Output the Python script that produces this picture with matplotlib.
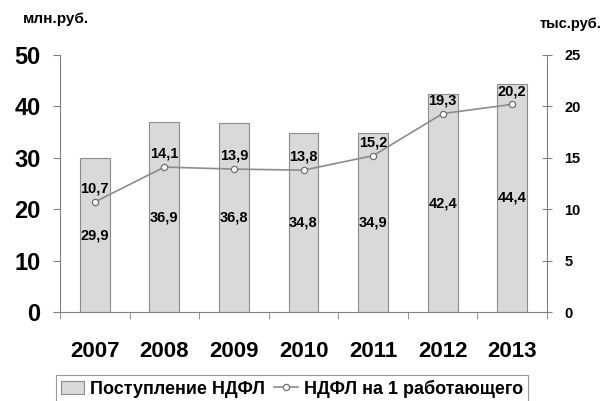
import matplotlib
matplotlib.use("Agg")
import matplotlib.pyplot as plt
import numpy as np

years = ["2007", "2008", "2009", "2010", "2011", "2012", "2013"]
income = [29.9, 36.9, 36.8, 34.8, 34.9, 42.4, 44.4]
per_worker = [10.7, 14.1, 13.9, 13.8, 15.2, 19.3, 20.2]

plt.rcParams['font.family'] = ['Liberation Sans', 'DejaVu Sans']
plt.rcParams['font.weight'] = 'bold'

fig = plt.figure(figsize=(6.03, 4.01), dpi=100)
ax = fig.add_axes([60/603, 1-312/401, 487/603, 257/401])
ax2 = ax.twinx()

x = np.arange(len(years))
bars = ax.bar(x, income, width=0.43, color='#d9d9d9', edgecolor='#8c8c8c', linewidth=0.8, label='Поступление НДФЛ', zorder=2)
ax.set_xlim(-0.5, len(years)-0.5)
ax.set_ylim(0, 50)
ax.set_yticks([0, 10, 20, 30, 40, 50])
ax.tick_params(axis='y', labelsize=17, length=5, color='#808080', pad=9)
ax.set_xticks(x)
ax.set_xticklabels(years, fontsize=16, fontweight='bold')
ax.tick_params(axis='x', length=0, pad=21)
ax.set_xticks(np.arange(-0.5, len(years)+0.5, 1), minor=True)
ax.tick_params(axis='x', which='minor', length=5, color='#808080')
for s in ['top', 'right']:
    ax.spines[s].set_visible(False)
for s in ['left', 'bottom']:
    ax.spines[s].set_color('#808080')

for xi, v in zip(x, income):
    ax.text(xi, v/2, f"{v:.1f}".replace('.', ','), ha='center', va='center', fontsize=10.5, fontweight='bold')

line, = ax2.plot(x, per_worker, color='#8c8c8c', lw=1.2, marker='o', ms=4.5, mfc='white', mec='#707070', mew=0.9, label='НДФЛ на 1 работающего', zorder=3)
ax2.set_ylim(0, 25)
ax2.set_yticks([0, 5, 10, 15, 20, 25])
ax2.tick_params(axis='y', labelsize=10.5, length=7, direction='inout', color='#808080', pad=9)
for s in ['top', 'left', 'bottom']:
    ax2.spines[s].set_visible(False)
ax2.spines['right'].set_color('#808080')
for xi, v in zip(x, per_worker):
    ax2.text(xi, v + 0.6, f"{v:.1f}".replace('.', ','), ha='center', va='bottom', fontsize=10.5, fontweight='bold')

fig.text(23/603, 1-19/401, 'млн.руб.', fontsize=11, fontweight='bold', ha='left', va='center')
fig.text(602/603, 1-24/401, 'тыс.руб.', fontsize=10.5, fontweight='bold', ha='right', va='center')

leg = fig.legend([bars, line], ['Поступление НДФЛ', 'НДФЛ на 1 работающего'], loc='upper center',
                 bbox_to_anchor=(292/603, 1-375/401), ncol=2, frameon=True, fancybox=False,
                 handlelength=1.3, handletextpad=0.35, columnspacing=0.5,
                 borderpad=0.25, borderaxespad=0, edgecolor='#808080', prop={'weight': 'bold', 'size': 13})
leg.get_frame().set_linewidth(0.8)

fig.savefig('out.png', dpi=100)
